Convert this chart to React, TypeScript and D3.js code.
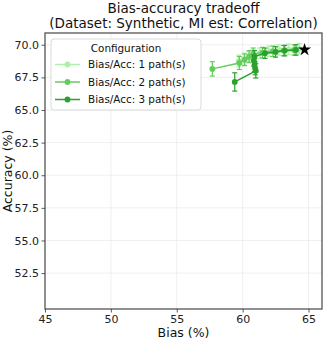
import React, { useEffect, useRef } from 'react';
import * as d3 from 'd3';

const width = 332;
const height = 342;
const margin = { top: 33, right: 10, bottom: 33, left: 45 };
const font = 'DejaVu Sans, sans-serif';

const xTicks = [45, 50, 55, 60, 65];
const yTicks = [52.5, 55, 57.5, 60, 62.5, 65, 67.5, 70];

const labels = ['Bias/Acc: 1 path(s)', 'Bias/Acc: 2 path(s)', 'Bias/Acc: 3 path(s)'];
const colors = ['#adf0a8', '#62cd5c', '#2ca02c'];

// 1 path
const bias1 = [59.7, 60.1, 60.45, 60.8, 61.3, 62.0, 62.75, 63.5, 64.3];
const acc1 = [68.75, 68.9, 69.05, 69.2, 69.35, 69.5, 69.6, 69.65, 69.7];
const err1 = [0.45, 0.45, 0.45, 0.4, 0.4, 0.4, 0.4, 0.4, 0.4];
// 2 paths
const bias2 = [57.7, 59.75, 60.15, 60.5, 60.8, 61.5, 62.3, 63.1, 63.9];
const acc2 = [68.15, 68.6, 68.85, 69.1, 69.3, 69.4, 69.5, 69.55, 69.6];
const err2 = [0.55, 0.5, 0.45, 0.45, 0.45, 0.4, 0.4, 0.4, 0.4];
// 3 paths
const bias3 = [59.4, 61.0, 60.95, 60.9, 60.85, 60.9, 61.7, 62.5, 63.2, 64.05];
const acc3 = [67.15, 68.0, 68.2, 68.45, 68.8, 69.1, 69.35, 69.45, 69.55, 69.6];
const err3 = [0.7, 0.55, 0.5, 0.5, 0.45, 0.45, 0.4, 0.4, 0.4, 0.4];

const bestBias = 64.7;
const bestAcc = 69.62;

const series = [
  { bias: bias1, acc: acc1, err: err1 },
  { bias: bias2, acc: acc2, err: err2 },
  { bias: bias3, acc: acc3, err: err3 },
];

const x = d3.scaleLinear().domain([45, 66]).range([margin.left, width - margin.right - 0.3]);
const y = d3.scaleLinear().domain([49.75, 70.9]).range([height - margin.bottom, margin.top]);

export default function App() {
  const xAxisRef = useRef<SVGGElement>(null);
  const yAxisRef = useRef<SVGGElement>(null);

  useEffect(() => {
    const xa = d3.axisBottom(x).tickValues(xTicks).tickFormat(d3.format('d')).tickSize(3.5).tickPadding(2.5);
    const ya = d3.axisLeft(y).tickValues(yTicks).tickFormat(d3.format('.1f')).tickSize(3.5).tickPadding(2.5);
    for (const [ref, ax] of [[xAxisRef, xa], [yAxisRef, ya]] as const) {
      const g = d3.select(ref.current!);
      g.call(ax as any);
      g.select('.domain').remove();
      g.selectAll('line').attr('stroke', '#333').attr('stroke-width', 0.8);
      g.selectAll('text').attr('font-family', font).attr('font-size', 11).attr('fill', '#222');
    }
  }, []);

  const line = d3.line<[number, number]>().x(d => x(d[0])).y(d => y(d[1]));
  const star = d3.symbol().type(d3.symbolStar).size(52)()!;
  const plotW = width - margin.left - margin.right;
  const plotH = height - margin.top - margin.bottom;

  return (
    <svg width={width} height={height} style={{ position: 'absolute', left: 0, top: 0, background: '#fff' }}>
      <text x={margin.left + plotW / 2} y={13} textAnchor="middle" fontFamily={font} fontSize={13.5} fill="#111">Bias-accuracy tradeoff</text>
      <text x={margin.left + plotW / 2} y={27.5} textAnchor="middle" fontFamily={font} fontSize={13.5} fill="#111">(Dataset: Synthetic, MI est: Correlation)</text>

      {xTicks.slice(1).map(t => (
        <line key={'gx' + t} x1={x(t)} x2={x(t)} y1={margin.top} y2={height - margin.bottom} stroke="#ebebeb" strokeWidth={0.8} />
      ))}
      {yTicks.map(t => (
        <line key={'gy' + t} x1={margin.left} x2={width - margin.right} y1={y(t)} y2={y(t)} stroke="#ebebeb" strokeWidth={0.8} />
      ))}

      {series.map((s, i) => {
        const pts = s.bias.map((b, j) => [b, s.acc[j]] as [number, number]);
        return (
          <g key={i}>
            {pts.map((p, j) => (
              <g key={j} stroke={colors[i]} strokeWidth={1.2}>
                <line x1={x(p[0])} x2={x(p[0])} y1={y(p[1] - s.err[j])} y2={y(p[1] + s.err[j])} />
                <line x1={x(p[0]) - 2.5} x2={x(p[0]) + 2.5} y1={y(p[1] - s.err[j])} y2={y(p[1] - s.err[j])} />
                <line x1={x(p[0]) - 2.5} x2={x(p[0]) + 2.5} y1={y(p[1] + s.err[j])} y2={y(p[1] + s.err[j])} />
              </g>
            ))}
            <path d={line(pts)!} fill="none" stroke={colors[i]} strokeWidth={1.5} />
            {pts.map((p, j) => (
              <circle key={'c' + j} cx={x(p[0])} cy={y(p[1])} r={2.9} fill={colors[i]} />
            ))}
          </g>
        );
      })}
      <path d={star} transform={`translate(${x(bestBias)},${y(bestAcc)})`} fill="#000" />

      <rect x={margin.left} y={margin.top} width={plotW} height={plotH} fill="none" stroke="#555" strokeWidth={1.3} />
      <g ref={xAxisRef} transform={`translate(0,${height - margin.bottom})`} />
      <g ref={yAxisRef} transform={`translate(${margin.left},0)`} />

      <text x={margin.left + plotW / 2} y={337} textAnchor="middle" fontFamily={font} fontSize={12.5} fill="#111">Bias (%)</text>
      <text transform={`translate(12,${margin.top + plotH / 2}) rotate(-90)`} textAnchor="middle" fontFamily={font} fontSize={12.5} fill="#111">Accuracy (%)</text>

      <g>
        <rect x={51} y={39} width={150} height={71} rx={3} fill="#fff" fillOpacity={0.85} stroke="#d0d0d0" strokeWidth={0.8} />
        <text x={126} y={52} textAnchor="middle" fontFamily={font} fontSize={10.4} fill="#111">Configuration</text>
        {labels.map((l, i) => (
          <g key={l}>
            <line x1={55} x2={80} y1={64.5 + i * 17.5} y2={64.5 + i * 17.5} stroke={colors[i]} strokeWidth={1.5} />
            <circle cx={67.5} cy={64.5 + i * 17.5} r={2.9} fill={colors[i]} />
            <text x={88} y={68 + i * 17.5} fontFamily={font} fontSize={10.4} fill="#111">{l}</text>
          </g>
        ))}
      </g>
    </svg>
  );
}
